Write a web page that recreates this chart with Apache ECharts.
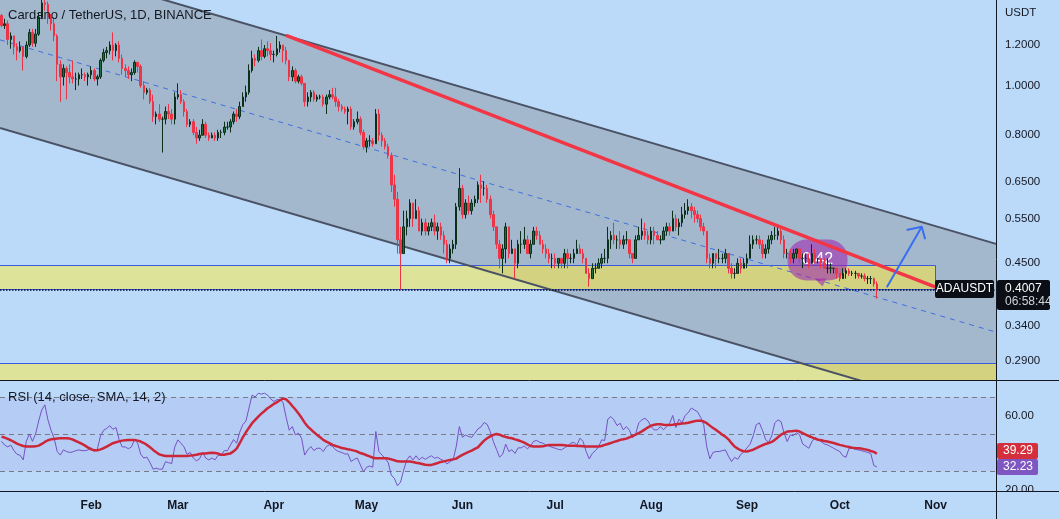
<!DOCTYPE html>
<html><head><meta charset="utf-8">
<script src="https://cdn.jsdelivr.net/npm/echarts@6/dist/echarts.min.js"></script>
<style>html,body{margin:0;padding:0;background:#bbdafa;}#c{width:1059px;height:519px;}</style>
</head><body><div id="c"></div>
<script>
// ---------- data (daily candles from 2022-01-03) ----------
const startDate = [2022, 0, 3];
const totalDays = 322;           // categories shown on the time axis (through 2022-11-20)
const firstOpen = 1.37;
const closes = [
1.31,1.32,1.23,1.25,1.19,1.17,1.19,1.14,1.20,1.27,1.21,1.26,1.36,1.45,1.44,1.36,1.32,1.25,1.10,1.04,1.08,1.06,1.04,1.03,1.03,1.05,1.05,1.04,1.05,
1.07,1.03,1.04,1.12,1.16,1.17,1.20,1.17,1.20,1.13,1.08,1.07,1.05,1.06,1.11,1.09,1.00,0.97,0.98,0.93,0.87,0.88,0.86,0.86,0.89,0.88,0.86,0.95,
0.96,0.93,0.89,0.84,0.85,0.81,0.79,0.80,0.84,0.80,0.79,0.80,0.79,0.81,0.81,0.83,0.83,0.85,0.88,0.87,0.91,0.95,0.97,1.07,1.13,1.12,1.17,1.14,1.18,1.17,1.15,
1.15,1.18,1.20,1.17,1.12,1.04,1.07,1.02,1.04,1.01,0.93,0.95,0.97,0.94,0.95,0.95,0.92,0.95,0.96,0.95,0.93,0.91,0.90,0.89,0.90,0.83,0.85,0.86,0.81,0.76,
0.78,0.78,0.77,0.88,0.80,0.78,0.76,0.73,0.64,0.60,0.50,0.47,0.53,0.55,0.59,0.55,0.57,0.52,0.54,0.52,0.53,0.54,0.52,0.53,0.51,0.49,0.46,0.48,0.49,0.58,0.63,
0.56,0.59,0.57,0.59,0.60,0.64,0.63,0.63,0.60,0.56,0.53,0.49,0.46,0.48,0.53,0.47,0.48,0.45,0.49,0.49,0.50,0.47,0.49,0.52,0.51,0.49,0.48,0.47,0.46,0.46,
0.45,0.46,0.45,0.47,0.46,0.46,0.47,0.48,0.47,0.46,0.43,0.42,0.44,0.44,0.45,0.46,0.46,0.50,0.51,0.50,0.50,0.49,0.50,0.50,0.47,0.46,0.50,0.51,0.52,0.51,0.50,
0.52,0.51,0.50,0.50,0.52,0.53,0.52,0.55,0.53,0.54,0.56,0.57,0.58,0.57,0.56,0.55,0.53,0.52,0.46,0.45,0.47,0.46,0.46,0.46,0.47,0.44,0.43,0.43,0.45,0.44,0.45,
0.46,0.49,0.50,0.50,0.49,0.47,0.48,0.50,0.51,0.51,0.52,0.50,0.47,0.47,0.46,0.47,0.48,0.46,0.46,0.46,0.45,0.47,0.46,0.46,0.45,0.44,0.44,0.44,0.44,0.43,
0.42,0.43,0.435,0.43,0.43,0.43,0.425,0.425,0.42,0.42,0.42,0.41,0.4007];
const highs = [
1.38,1.35,1.34,1.27,1.25,1.21,1.22,1.19,1.22,1.29,1.29,1.29,1.39,1.50,1.55,1.46,1.38,1.36,1.26,1.12,1.10,1.09,1.10,1.12,1.06,1.06,1.08,1.06,1.06,
1.09,1.08,1.05,1.13,1.18,1.19,1.22,1.27,1.21,1.22,1.15,1.10,1.09,1.08,1.12,1.11,1.10,1.02,0.99,0.99,0.96,0.89,0.92,0.87,0.91,0.92,0.90,0.97,
1.01,0.98,0.94,0.90,0.86,0.86,0.83,0.82,0.86,0.85,0.81,0.81,0.81,0.82,0.82,0.85,0.85,0.86,0.89,0.90,0.93,0.97,1.00,1.10,1.17,1.15,1.19,1.23,1.20,1.22,1.21,
1.17,1.25,1.22,1.20,1.19,1.12,1.09,1.08,1.05,1.05,1.01,0.97,0.98,0.98,0.96,0.96,0.96,0.96,0.98,0.99,0.99,0.94,0.92,0.91,0.91,0.91,0.86,0.89,0.87,0.82,
0.79,0.80,0.79,0.90,0.90,0.81,0.79,0.77,0.74,0.67,0.62,0.53,0.57,0.57,0.60,0.59,0.60,0.58,0.55,0.55,0.54,0.55,0.56,0.54,0.54,0.52,0.50,0.49,0.50,0.59,0.69,
0.64,0.60,0.61,0.60,0.61,0.65,0.67,0.65,0.64,0.61,0.57,0.53,0.50,0.49,0.54,0.53,0.50,0.48,0.50,0.52,0.53,0.51,0.50,0.53,0.53,0.52,0.50,0.49,0.48,0.47,
0.47,0.46,0.46,0.48,0.48,0.47,0.48,0.50,0.49,0.48,0.46,0.44,0.45,0.45,0.46,0.47,0.48,0.53,0.52,0.54,0.51,0.52,0.51,0.52,0.50,0.47,0.51,0.53,0.55,0.54,0.52,
0.53,0.53,0.52,0.51,0.53,0.54,0.54,0.57,0.56,0.55,0.58,0.59,0.60,0.59,0.58,0.57,0.56,0.54,0.52,0.47,0.47,0.47,0.48,0.47,0.48,0.47,0.45,0.44,0.46,0.46,0.46,
0.47,0.51,0.51,0.51,0.51,0.50,0.49,0.51,0.52,0.53,0.53,0.53,0.51,0.48,0.48,0.48,0.48,0.48,0.47,0.47,0.47,0.49,0.48,0.46,0.46,0.46,0.46,0.45,0.44,0.44,
0.43,0.44,0.44,0.44,0.435,0.435,0.43,0.43,0.43,0.425,0.425,0.422,0.415];
const lows = [
1.30,1.29,1.20,1.18,1.15,1.12,1.16,1.07,1.13,1.19,1.19,1.19,1.25,1.35,1.40,1.32,1.28,1.22,1.02,0.93,1.00,0.94,1.01,1.01,0.98,1.00,1.03,1.02,1.00,
1.03,1.02,1.00,1.03,1.11,1.13,1.15,1.12,1.14,1.11,1.05,1.04,1.03,1.02,1.05,1.06,0.99,0.94,0.96,0.92,0.85,0.84,0.85,0.74,0.84,0.86,0.84,0.84,
0.94,0.92,0.87,0.83,0.83,0.80,0.77,0.78,0.80,0.79,0.78,0.79,0.78,0.78,0.79,0.80,0.82,0.81,0.84,0.85,0.86,0.91,0.93,0.96,1.06,1.09,1.11,1.12,1.13,1.14,1.12,
1.11,1.14,1.16,1.11,1.10,1.02,1.02,1.01,1.01,1.00,0.91,0.91,0.93,0.93,0.93,0.94,0.91,0.88,0.94,0.94,0.91,0.89,0.89,0.88,0.84,0.82,0.82,0.84,0.80,0.75,
0.74,0.76,0.76,0.77,0.78,0.76,0.75,0.72,0.62,0.58,0.47,0.40,0.47,0.51,0.53,0.53,0.55,0.52,0.51,0.51,0.51,0.52,0.51,0.50,0.50,0.47,0.45,0.45,0.47,0.48,0.57,
0.55,0.55,0.56,0.56,0.58,0.59,0.59,0.61,0.59,0.55,0.52,0.48,0.44,0.43,0.45,0.46,0.47,0.42,0.44,0.47,0.48,0.47,0.46,0.49,0.50,0.49,0.47,0.46,0.45,0.44,
0.44,0.44,0.44,0.44,0.44,0.45,0.45,0.47,0.47,0.45,0.43,0.405,0.42,0.43,0.44,0.44,0.45,0.45,0.48,0.49,0.48,0.48,0.48,0.49,0.46,0.45,0.46,0.50,0.50,0.50,0.49,
0.49,0.49,0.50,0.49,0.50,0.51,0.51,0.52,0.52,0.51,0.53,0.55,0.56,0.55,0.54,0.54,0.52,0.51,0.45,0.44,0.44,0.44,0.45,0.45,0.45,0.43,0.42,0.42,0.43,0.43,0.44,
0.44,0.46,0.48,0.49,0.48,0.46,0.46,0.47,0.49,0.50,0.50,0.49,0.46,0.46,0.45,0.45,0.46,0.45,0.44,0.45,0.44,0.45,0.45,0.45,0.44,0.44,0.43,0.43,0.43,0.42,
0.415,0.42,0.42,0.425,0.425,0.42,0.42,0.42,0.415,0.41,0.41,0.405,0.384];
const rsi = [
46,44,43,44,41,39,38.5,36,46,50,46,50,57,63,65.7,57.6,52,47.7,40.5,38.6,41.4,40.5,40,40.3,41,41.4,41,41,41.4,
42.5,40.5,42,49,52,53,54.5,52.5,53.5,47,43,43,42,43,47,45,39,37,37.5,34.5,31,31.5,31,31,35,34.5,34,43,
46.8,45,43,39,40,37,35.5,36.5,40,37,36,37,36,38.5,38.5,41,41,44,47,45,51,55,57,64,71,70,72,71.5,72,71,69,
67.5,68.5,68.5,67,59,52,54,49.5,50.4,47.7,38.6,41.4,43.2,41,42.3,42.3,40.5,43.2,44.1,43.2,41.4,40.5,40,39.2,39.2,35.1,36.3,37,33.3,29.6,
32,32.7,32,51.3,40.5,38.6,36.9,34.5,27.8,26,22,24,30.5,36,38.2,36,38.2,36,37.4,36.3,37.4,38.2,36.9,37.4,36.3,35.6,33.8,35.1,36,43.2,54,
48.2,49.5,48.6,48.2,50.4,52.7,53.8,56.2,55.2,51.3,45.9,41.7,37.5,39,44.5,40.5,41.5,39.5,42.5,42.5,43.5,42,43.5,46,46.5,45.5,45,44,43.5,42.8,
42.3,41.7,41.4,42.5,43.5,45,45.5,44,47.7,46,40.5,36.5,39.5,41,43,46.8,46.5,58,59.4,57.6,54.5,55.8,52.2,54,52,48,50,56,57.6,58.5,57,
54,52.2,52.2,54,52.2,54,55.8,60,53.5,58,56,60,61.5,64,63,62,59,55,43,36.5,40,40.5,40.5,41,41.4,38,35.1,37.4,36.3,39,40.5,
42.5,44.5,49,55,56,52,47,45.5,49,56,57.6,56.7,50.4,45.9,49.5,49,50.7,49.5,44.6,43.5,42.3,45.9,48.2,47.1,45.9,44.6,44.1,43.2,42.3,41.4,
40.5,38.2,37.4,42.3,42.3,41.7,41.4,41,40.5,40,39.5,33,32.23];
const rsiMa = [
48.6,48,47.3,46.6,45.7,44.8,44.1,43.5,43.2,43.2,43.2,43.3,43.7,44.6,45.7,46.6,47.1,47.3,47.5,47.7,47.7,47.7,47.5,47,46.2,45.5,44.6,43.7,42.6,
41.7,41.2,41.2,41.7,42.3,43.2,44.1,45,45.5,46,46.4,46.6,46.8,46.8,46.8,46.4,45.9,45.1,44.1,42.8,41.4,40.1,39,38.5,38.1,38.1,38.1,38.1,
38.1,38.1,38.1,38.1,38.3,38.5,38.8,39.2,39.4,39.5,39.7,39.9,39.7,39.4,38.8,38.8,39.2,39.5,40.6,42.1,45,48.2,50.9,53.4,55.8,57.6,59.4,61,62.4,63.9,65,
66.2,67.1,68.2,69.1,68.7,67.1,65.1,63.2,61,58.7,56.1,54,52.5,50.9,49.5,48.2,46.8,45.9,45,44.1,43.5,43,42.4,42.1,41.7,41.4,41,40.5,39.7,39.2,
38.5,37.9,37.2,36.9,36.9,36.9,36.9,36.7,36.3,35.8,35.2,35.1,35.1,35.1,35.1,34.9,34.5,34.2,33.8,33.4,33.3,33.3,33.8,34.3,34.9,35.2,35.6,36,36.3,36.7,37.8,
38.7,39.5,40.3,41,41.9,42.8,44.6,46.4,47.7,48.7,49.5,50,49.6,48.9,48.4,48,47.7,47.1,46.6,46,45.3,44.4,43.5,43.2,43.2,43.2,43.3,43.7,44.1,44.1,
44.1,44.1,44.1,43.9,43.7,43.7,43.7,43.5,43.5,43.4,43.2,43.2,43.2,43.2,43.2,43.5,44.1,44.6,45.1,45.7,46.2,46.8,47.1,47.5,48.2,48.9,49.6,50.5,51.4,52.5,53.6,
54.5,55,55.2,55.2,55,54.9,54.9,55,55.2,55.4,55.6,55.8,56.1,56.5,56.9,57.2,57.2,56.7,55.8,54.5,53.2,52.2,50.9,49.6,48.6,47.1,45,43.2,42.1,41.2,40.6,
40.5,41,41.5,42.3,43.2,43.9,44.6,45.1,45.7,46.8,48.2,49.6,50.5,51.3,51.4,51.6,51.8,51.3,50.4,49.6,48.9,48.2,47.5,46.9,46.6,46.2,45.9,45.5,45.1,44.6,
44.1,43.7,43.3,43,42.6,42.4,42.3,42.1,41.7,41.4,40.8,40.3,39.29];
const priceTicks = [1.2, 1.0, 0.8, 0.65, 0.55, 0.45, 0.34, 0.29];
const rsiTicks = [20, 60];
const rsiLevels = [70, 50, 30];
const monthNames = ['Jan','Feb','Mar','Apr','May','Jun','Jul','Aug','Sep','Oct','Nov','Dec'];
const lastPrice = 0.4007, countdown = '06:58:44';
// drawings: [day index from 2022-01-03, price]
const channelX = [-0.5, 321.5];
const channelUpper = [1.825, 0.491];
const channelLower = [0.8263, 0.2221];
const channelMid = [1.228, 0.3302];
const trendPts = [[92, 1.253], [302, 0.4041]];
const zoneUpper = [[-3, 0.4464], [302, 0.4007]];
const zoneLower = [[-3, 0.2874], [325, 0.2]];
const arrowShaft = [[286.2, 0.4039], [297.5, 0.5303]];
const arrowHead = [[292.6, 0.5225], [297.5, 0.5303], [298.6, 0.5011]];
const bubble = {x: 263.8, y: 0.4557, text: '0.42'};

// ---------- build ----------
const dates = [];
for (let k = 0; k < totalDays; k++) {
  const d = new Date(Date.UTC(startDate[0], startDate[1], startDate[2] + k));
  dates.push(d.toISOString().slice(0, 10));
}
const candles = dates.map((d, k) => k < closes.length
  ? [k === 0 ? firstOpen : closes[k - 1], closes[k], lows[k], highs[k]] : '-');
const rsiData = dates.map((d, k) => k < rsi.length ? rsi[k] : '-');
const rsiMaData = dates.map((d, k) => k < rsiMa.length ? rsiMa[k] : '-');

const FONT = 'Liberation Sans, Arial, sans-serif';
const TXT = '#131722';
const chart = echarts.init(document.getElementById('c'));

function segLine(pts, color, width, type, z) {
  return {type: 'line', xAxisIndex: 1, yAxisIndex: 0, data: pts, symbol: 'none', silent: true,
    lineStyle: {color: color, width: width, type: type || 'solid'}, z: z || 5, animation: false};
}
function rectSeries(pts, fill, stroke, z) {
  return {type: 'custom', xAxisIndex: 1, yAxisIndex: 0, clip: true, silent: true, z: z, data: [[0]],
    renderItem: (p, api) => {
      const a = api.coord(pts[0]), b = api.coord(pts[1]);
      return {type: 'rect', shape: {x: Math.round(a[0]) + 0.5, y: Math.round(a[1]) + 0.5,
        width: Math.round(b[0] - a[0]), height: Math.round(b[1] - a[1])},
        style: {fill: fill, stroke: stroke, lineWidth: 1}};
    }};
}

const option = {
  animation: false,
  backgroundColor: '#bbdafa',
  textStyle: {fontFamily: FONT},
  grid: [
    {left: 0, top: 0, width: 996, height: 380},
    {left: 0, top: 381, width: 996, height: 110}
  ],
  xAxis: [
    {type: 'category', gridIndex: 0, data: dates, axisLine: {show: false}, axisTick: {show: false},
      axisLabel: {show: false}, splitLine: {show: false}},
    {type: 'value', gridIndex: 0, min: -0.5, max: 321.5, show: false},
    {type: 'category', gridIndex: 1, data: dates, axisLine: {show: false}, axisTick: {show: false},
      splitLine: {show: false},
      axisLabel: {interval: (i, v) => v.slice(8) === '01', formatter: v => monthNames[+v.slice(5, 7) - 1],
        color: TXT, fontSize: 12, fontWeight: 'bold', fontFamily: FONT, margin: 9}}
  ],
  yAxis: [
    {type: 'log', gridIndex: 0, position: 'right', min: 0.2663, max: 1.469,
      axisLine: {show: false}, axisTick: {show: false}, splitLine: {show: false},
      axisLabel: {customValues: priceTicks, formatter: v => Number(v).toFixed(4), color: TXT,
        fontSize: 11.5, fontFamily: FONT, margin: 9}},
    {type: 'value', gridIndex: 1, position: 'right', min: 19.2, max: 78.6,
      axisLine: {show: false}, axisTick: {show: false}, splitLine: {show: false},
      axisLabel: {customValues: rsiTicks, formatter: v => Number(v).toFixed(2), color: TXT,
        fontSize: 11.5, fontFamily: FONT, margin: 9}}
  ],
  series: [
    // channel fill
    {type: 'custom', xAxisIndex: 1, yAxisIndex: 0, clip: true, silent: true, z: 1, data: [[0]],
      renderItem: (p, api) => ({type: 'polygon', shape: {points: [
        api.coord([channelX[0], channelUpper[0]]), api.coord([channelX[1], channelUpper[1]]),
        api.coord([channelX[1], channelLower[1]]), api.coord([channelX[0], channelLower[0]])]},
        style: {fill: 'rgba(114,105,103,0.30)'}})},
    rectSeries(zoneUpper, 'rgba(255,236,54,0.5)', '#3b5bdb', 2),
    rectSeries(zoneLower, 'rgba(255,236,54,0.5)', '#3b5bdb', 2),
    segLine([[channelX[0], channelUpper[0]], [channelX[1], channelUpper[1]]], '#4a5263', 2, 'solid', 3),
    segLine([[channelX[0], channelLower[0]], [channelX[1], channelLower[1]]], '#4a5263', 2, 'solid', 3),
    segLine([[channelX[0], channelMid[0]], [channelX[1], channelMid[1]]], '#3f6fe0', 1, [5, 5], 3),
    // speech bubble
    {type: 'custom', xAxisIndex: 1, yAxisIndex: 0, silent: true, z: 4, data: [[0]],
      renderItem: (p, api) => {
        const c = api.coord([bubble.x, bubble.y]);
        const col = 'rgba(156,39,176,0.58)';
        return {type: 'group', children: [
          {type: 'rect', shape: {x: c[0] - 30, y: c[1] - 21, width: 60, height: 41, r: 19}, style: {fill: col}},
          {type: 'polygon', shape: {points: [[c[0] - 3, c[1] + 18], [c[0] + 9, c[1] + 18], [c[0] + 5, c[1] + 26]]}, style: {fill: col}},
          {type: 'text', style: {text: bubble.text, x: c[0], y: c[1] - 1, align: 'center', verticalAlign: 'middle',
            fill: '#ffffff', font: '16px ' + FONT}}
        ]};
      }},
    // candles
    {type: 'candlestick', xAxisIndex: 0, yAxisIndex: 0, data: candles, barWidth: 2, z: 6, silent: true,
      itemStyle: {color: '#1c6e3f', color0: '#f0364a', borderColor: '#0c2f1b', borderColor0: '#ef3347', borderWidth: 1},
      markLine: {symbol: 'none', silent: true, label: {show: false}, animation: false,
        lineStyle: {type: [1.5, 1.5], color: '#000a2e', width: 1.5}, data: [{yAxis: lastPrice}]}},
    segLine(trendPts, '#f23645', 3.5, 'solid', 8),
    segLine(arrowShaft, '#3a6ef0', 2, 'solid', 8),
    segLine(arrowHead, '#3a6ef0', 2, 'solid', 8),
    // RSI pane
    {type: 'line', xAxisIndex: 2, yAxisIndex: 1, data: rsiData, symbol: 'none', silent: true, z: 5,
      lineStyle: {color: '#7552c4', width: 1},
      markArea: {silent: true, itemStyle: {color: 'rgba(126,87,194,0.10)'}, data: [[{yAxis: 70}, {yAxis: 30}]]},
      markLine: {symbol: 'none', silent: true, label: {show: false}, animation: false,
        lineStyle: {type: [5, 4], color: '#787b86', width: 1}, data: rsiLevels.map(v => ({yAxis: v}))}},
    {type: 'line', xAxisIndex: 2, yAxisIndex: 1, data: rsiMaData, symbol: 'none', silent: true, z: 6,
      lineStyle: {color: '#cc2639', width: 2.5}}
  ]
};
chart.setOption(option);

// labels that sit at data positions
const py = chart.convertToPixel({yAxisIndex: 0}, lastPrice);
const ry2 = chart.convertToPixel({yAxisIndex: 1}, rsi[rsi.length - 1]);
const ry1 = Math.min(chart.convertToPixel({yAxisIndex: 1}, rsiMa[rsiMa.length - 1]), ry2 - 16);
chart.setOption({graphic: [
  {type: 'text', left: 8, top: 9, z: 50, style: {text: 'Cardano / TetherUS, 1D, BINANCE', fill: TXT, font: '13px ' + FONT}},
  {type: 'text', left: 8, top: 391, z: 50, style: {text: 'RSI (14, close, SMA, 14, 2)', fill: TXT, font: '13px ' + FONT}},
  {type: 'text', left: 1005, top: 7, z: 50, style: {text: 'USDT', fill: TXT, font: '11.5px ' + FONT}},
  // cover bottom of clipped RSI label
  {type: 'rect', shape: {x: 997, y: 492, width: 62, height: 27}, z: 40, style: {fill: '#bbdafa'}},
  // separators
  {type: 'line', shape: {x1: 996.5, y1: 0, x2: 996.5, y2: 519}, z: 45, style: {stroke: '#131722', lineWidth: 1}},
  {type: 'line', shape: {x1: 0, y1: 380.5, x2: 1059, y2: 380.5}, z: 45, style: {stroke: '#131722', lineWidth: 1}},
  {type: 'line', shape: {x1: 0, y1: 491.5, x2: 1059, y2: 491.5}, z: 45, style: {stroke: '#131722', lineWidth: 1}},
  // symbol label and price label
  {type: 'rect', shape: {x: 935, y: Math.round(py) - 9, width: 59, height: 18, r: 2}, z: 50, style: {fill: '#0b0e14'}},
  {type: 'text', x: 964.5, y: Math.round(py), z: 51, style: {text: 'ADAUSDT', fill: '#ffffff', font: '12px ' + FONT, align: 'center', verticalAlign: 'middle'}},
  {type: 'rect', shape: {x: 997, y: Math.round(py) - 9, width: 53, height: 30, r: 2}, z: 50, style: {fill: '#0b0e14'}},
  {type: 'text', x: 1005, y: Math.round(py), z: 51, style: {text: lastPrice.toFixed(4), fill: '#ffffff', font: '12px ' + FONT, verticalAlign: 'middle'}},
  {type: 'text', x: 1005, y: Math.round(py) + 13, z: 51, style: {text: countdown, fill: '#d1d4dc', font: '12px ' + FONT, verticalAlign: 'middle'}},
  // RSI value labels
  {type: 'rect', shape: {x: 997, y: Math.round(ry1) - 8, width: 41, height: 16, r: 2}, z: 50, style: {fill: '#d32f3c'}},
  {type: 'text', x: 1003, y: Math.round(ry1), z: 51, style: {text: rsiMa[rsiMa.length - 1].toFixed(2), fill: '#ffffff', font: '12px ' + FONT, verticalAlign: 'middle'}},
  {type: 'rect', shape: {x: 997, y: Math.round(ry2) - 8, width: 41, height: 16, r: 2}, z: 50, style: {fill: '#7e57c2'}},
  {type: 'text', x: 1003, y: Math.round(ry2), z: 51, style: {text: rsi[rsi.length - 1].toFixed(2), fill: '#ffffff', font: '12px ' + FONT, verticalAlign: 'middle'}}
]});
</script></body></html>
